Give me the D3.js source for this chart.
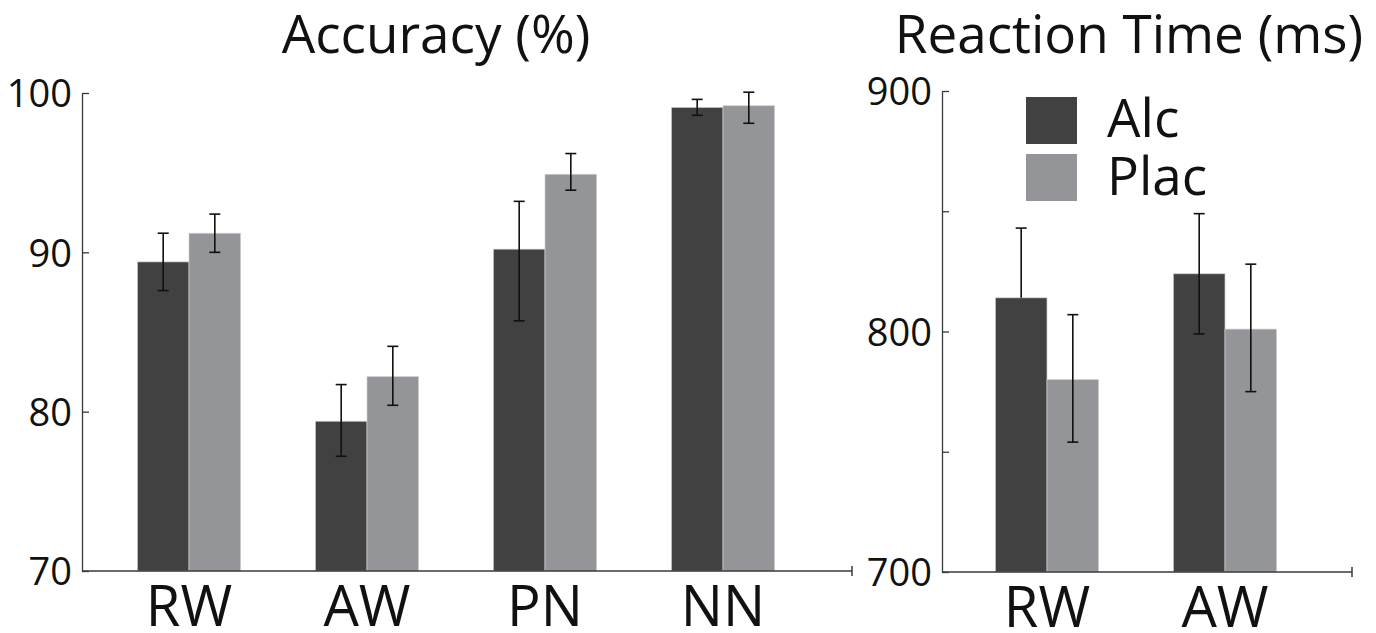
<!DOCTYPE html>
<html>
<head>
<meta charset="utf-8">
<script src="https://cdn.jsdelivr.net/npm/d3@7"></script>
<style>
  body { margin: 0; background: #fff; }
  text { font-family: "Open Sans", sans-serif; fill: #111; }
</style>
</head>
<body>
<div id="chart-area"></div>
<script>
// accuracy (%) per condition
let accCats = ["RW", "AW", "PN", "NN"];
let accAlc = [89.4, 79.4, 90.2, 99.1];
let accAlcLo = [87.6, 77.2, 85.7, 98.6];
let accAlcHi = [91.2, 81.7, 93.2, 99.6];
let accPlac = [91.2, 82.2, 94.9, 99.2];
let accPlacLo = [90.0, 80.4, 93.9, 98.1];
let accPlacHi = [92.4, 84.1, 96.2, 100.05];
let accTicks = [70, 80, 90, 100];

// reaction time (ms)
let rtCats = ["RW", "AW"];
let rtAlc = [814, 824];
let rtAlcLo = [null, 799];   // lower whisker not shown for RW
let rtAlcHi = [843, 849];
let rtPlac = [780, 801];
let rtPlacLo = [754, 775];
let rtPlacHi = [807, 828];
let rtTicks = [700, 750, 800, 850, 900];

let seriesNames = ["Alc", "Plac"];
let colors = {"Alc": "#414141", "Plac": "#939598"};

const W = 1376, H = 633;
const svg = d3.select("#chart-area").append("svg").attr("width", W).attr("height", H);

function buildRows(cats, alc, alcLo, alcHi, plac, placLo, placHi){
  let rows = [];
  cats.forEach((c, i)=>{
    rows.push({cat: c, s: "Alc", v: alc[i], lo: alcLo[i], hi: alcHi[i]});
    rows.push({cat: c, s: "Plac", v: plac[i], lo: placLo[i], hi: placHi[i]});
  });
  return rows;
}

function drawPanel(opt){
  let g = svg.append("g");
  let x0 = d3.scaleBand().domain(opt.cats).range(opt.xRange);
  let bw = x0.bandwidth();
  let x1 = d3.scaleBand().domain(seriesNames).range([bw*0.21, bw*0.79]);
  let y = d3.scaleLinear().domain(opt.yDomain).range([opt.bottom, opt.top]);

  // bars
  g.selectAll("rect.bar").data(opt.rows).join("rect")
    .attr("class", "bar")
    .attr("x", d=>x0(d.cat) + x1(d.s))
    .attr("y", d=>y(d.v))
    .attr("width", x1.bandwidth())
    .attr("height", d=>y(opt.yDomain[0]) - y(d.v))
    .attr("fill", d=>colors[d.s])
    .attr("stroke", "#cfcfcf")
    .attr("stroke-width", 0.7);

  // error bars
  let cap = 5.5;
  let eb = g.selectAll("g.err").data(opt.rows).join("g").attr("class", "err")
    .attr("transform", d=>`translate(${x0(d.cat) + x1(d.s) + x1.bandwidth()/2},0)`)
    .attr("stroke", "#111").attr("stroke-width", 1.6);
  eb.append("line")
    .attr("y1", d=>y(d.hi)).attr("y2", d=>d.lo == null ? y(d.v) : y(d.lo));
  eb.append("line").attr("x1", -cap).attr("x2", cap)
    .attr("y1", d=>y(d.hi)).attr("y2", d=>y(d.hi));
  eb.filter(d=>d.lo != null).append("line").attr("x1", -cap).attr("x2", cap)
    .attr("y1", d=>y(d.lo)).attr("y2", d=>y(d.lo));

  // y axis, ticks pointing inward
  let yAx = g.append("g").attr("transform", `translate(${opt.axisX},0)`)
    .call(d3.axisLeft(y).tickValues(opt.ticks).tickSize(-7).tickSizeOuter(0).tickPadding(10)
      .tickFormat(opt.fmt));
  yAx.select(".domain").attr("stroke", "#3a3a3a").attr("stroke-width", 1.3);
  yAx.selectAll(".tick line").attr("stroke", "#3a3a3a").attr("stroke-width", 1.3);
  yAx.selectAll(".tick text").attr("font-size", 38).attr("font-family", "Open Sans").attr("fill", "#111")
    .attr("dy", "0.36em");

  // x baseline with end tick
  g.append("line").attr("x1", opt.axisX).attr("x2", opt.xEnd)
    .attr("y1", y(opt.yDomain[0])).attr("y2", y(opt.yDomain[0]))
    .attr("stroke", "#3a3a3a").attr("stroke-width", 1.5);
  g.append("line").attr("x1", opt.xEnd).attr("x2", opt.xEnd)
    .attr("y1", y(opt.yDomain[0]) - 5).attr("y2", y(opt.yDomain[0]) + 5)
    .attr("stroke", "#3a3a3a").attr("stroke-width", 1.5);

  // category labels
  let xAx = g.append("g").attr("transform", `translate(0,${y(opt.yDomain[0])})`)
    .call(d3.axisBottom(x0).tickSize(0).tickPadding(0));
  xAx.select(".domain").remove();
  xAx.selectAll("text").attr("font-size", 56).attr("font-family", "Open Sans").attr("fill", "#111")
    .attr("dy", "0.98em");

  // title
  g.append("text").attr("x", opt.titleX).attr("y", 53).attr("text-anchor", "middle")
    .attr("font-size", 53).text(opt.title);
  return {x0, y};
}

drawPanel({
  rows: buildRows(accCats, accAlc, accAlcLo, accAlcHi, accPlac, accPlacLo, accPlacHi),
  cats: accCats, xRange: [100, 812], yDomain: [70, 100], top: 93, bottom: 571,
  axisX: 82, xEnd: 852, ticks: accTicks, fmt: d=>d,
  title: "Accuracy (%)", titleX: 436
});

drawPanel({
  rows: buildRows(rtCats, rtAlc, rtAlcLo, rtAlcHi, rtPlac, rtPlacLo, rtPlacHi),
  cats: rtCats, xRange: [958, 1314], yDomain: [700, 900], top: 91, bottom: 572,
  axisX: 942, xEnd: 1352, ticks: rtTicks, fmt: d=>(d % 100 === 0 ? d : ""),
  title: "Reaction Time (ms)", titleX: 1129
});

// legend
let leg = svg.append("g").attr("transform", "translate(1026,97)");
leg.selectAll("rect").data(seriesNames).join("rect")
  .attr("x", 0).attr("y", (d, i)=>i*57)
  .attr("width", 51).attr("height", 47)
  .attr("fill", d=>colors[d]);
leg.selectAll("text").data(seriesNames).join("text")
  .attr("x", 81).attr("y", (d, i)=>i*58 + 40)
  .attr("font-size", 53).text(d=>d);
</script>
</body>
</html>
